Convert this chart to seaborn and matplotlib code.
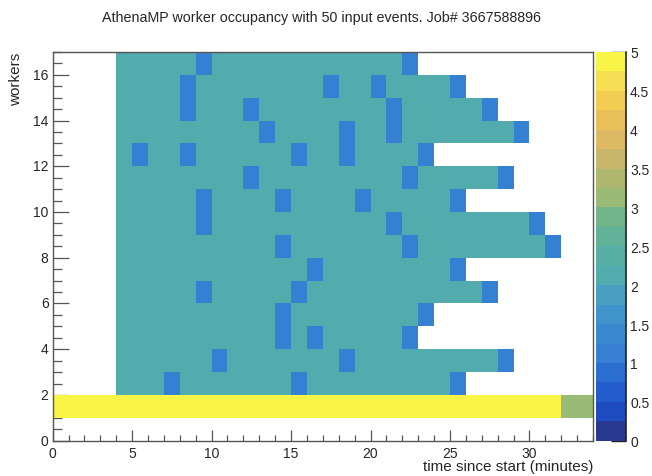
import numpy as np
import pandas as pd
import matplotlib
matplotlib.use("Agg")
import matplotlib.pyplot as plt
from matplotlib.colors import ListedColormap
from matplotlib.ticker import MultipleLocator
from matplotlib.lines import Line2D
import seaborn as sns

# ---------------- data ----------------
title = "AthenaMP worker occupancy with 50 input events. Job# 3667588896"
x_label = "time since start (minutes)"
y_label = "workers"

minute_bins = list(range(34))   # 1-minute bins, 0..34
worker_bins = list(range(17))   # worker rows, 0..17

# occupancy per worker row (row 0 at bottom), one char per minute bin,
# chunks: minutes 0-9 | 10-19 | 20-29 | 30-33 ; "." = empty bin
occupancy_rows = [
    ".........." ".........." ".........." "....",  # 0
    "5555555555" "5555555555" "5555555555" "5533",  # 1
    "....222122" "2222212222" "222221...." "....",  # 2
    "....222222" "1222222212" "222222221." "....",  # 3
    "....222222" "2222121222" "221......." "....",  # 4
    "....222222" "2222122222" "2221......" "....",  # 5
    "....222221" "2222212222" "22222221.." "....",  # 6
    "....222222" "2222221222" "222221...." "....",  # 7
    "....222222" "2222122222" "2212222222" "21..",  # 8
    "....222221" "2222222222" "2122222222" "1...",  # 9
    "....222221" "2222122221" "222221...." "....",  # 10
    "....222222" "2212222222" "221222221." "....",  # 11
    "....212212" "2222212212" "2221......" "....",  # 12
    "....222222" "2221222212" "2122222221" "....",  # 13
    "....222212" "2212222222" "21222221.." "....",  # 14
    "....222212" "2222222122" "122221...." "....",  # 15
    "....222221" "2222222222" "221......." "....",  # 16
]

x_ticks = [0, 5, 10, 15, 20, 25, 30]
y_ticks = [0, 2, 4, 6, 8, 10, 12, 14, 16]
cbar_ticks = [0, 0.5, 1, 1.5, 2, 2.5, 3, 3.5, 4, 4.5, 5]
cbar_labels = ["0", "0.5", "1", "1.5", "2", "2.5", "3", "3.5", "4", "4.5", "5"]
z_min, z_max = 0, 5

# 20 colour levels (bottom -> top), ROOT "bird"-like palette as rendered
palette_colors = [
    "#29398f", "#1e4cbe", "#225dcb", "#2a6ecf", "#3580d3",
    "#3a88d0", "#4093cb", "#4a9fc0", "#52abad", "#57afa6",
    "#62b29a", "#73b58a", "#9abb75", "#aeb76d", "#c7b56a",
    "#ddb964", "#e9bf58", "#f3cc52", "#f5de52", "#f9f547",
]

# ---------------- style ----------------
sns.set_style("white")
plt.rcParams["font.family"] = ["Liberation Sans", "DejaVu Sans"]
frame_col = "#555555"

grid = np.array([[np.nan if c == "." else float(c) for c in row]
                 for row in occupancy_rows])
assert grid.shape == (len(worker_bins), len(minute_bins)), grid.shape
df = pd.DataFrame(grid, index=worker_bins, columns=minute_bins)

fig = plt.figure(figsize=(6.52, 4.77), dpi=100)
ax = fig.add_axes([0.0808, 0.074, 0.8287, 0.815])
cax = fig.add_axes([0.914, 0.074, 0.046, 0.815])

cmap = ListedColormap(palette_colors)
sns.heatmap(df, ax=ax, cbar_ax=cax, cmap=cmap, vmin=z_min, vmax=z_max,
            linewidths=0)

ax.set_xlim(0, len(minute_bins))
ax.set_ylim(0, len(worker_bins))

ax.set_xticks(x_ticks, labels=[str(t) for t in x_ticks])
ax.set_yticks(y_ticks, labels=[str(t) for t in y_ticks])
ax.xaxis.set_minor_locator(MultipleLocator(1))
ax.yaxis.set_minor_locator(MultipleLocator(0.5))
ax.tick_params(axis="x", which="major", direction="in", length=8, width=0.9,
               color=frame_col, labelsize=10, pad=3.5, labelrotation=0,
               bottom=True, top=False)
ax.tick_params(axis="x", which="minor", direction="in", length=4, width=0.9,
               color=frame_col, bottom=True, top=False)
ax.tick_params(axis="y", which="major", direction="in", length=11.5, width=0.9,
               color=frame_col, labelsize=10, pad=3, labelrotation=0,
               left=True, right=False)
ax.tick_params(axis="y", which="minor", direction="in", length=6.5, width=0.9,
               color=frame_col, left=True, right=False)
for lab in ax.get_yticklabels():
    lab.set_va("center")

for sp in ax.spines.values():
    sp.set_visible(True)
    sp.set_color(frame_col)
    sp.set_linewidth(1.0)

ax.set_xlabel(x_label, fontsize=11, loc="right")
ax.xaxis.set_label_coords(1.0, -0.046)
ax.set_ylabel(y_label, fontsize=11, loc="top")
ax.yaxis.set_label_coords(-0.055, 1.0)

# colour bar
cax.set_yticks(cbar_ticks, labels=cbar_labels)
cax.yaxis.set_minor_locator(plt.NullLocator())
cax.tick_params(axis="y", which="major", direction="in", length=11, width=1.0,
                color="#222222", right=True, left=False, labelright=True,
                labelleft=False, labelsize=10, pad=3)
cax.add_line(Line2D([1, 1], [0, 1], transform=cax.transAxes,
                    color="#222222", lw=1.2, clip_on=False))

fig.text(0.493, 0.962, title, ha="center", va="center", fontsize=10.3)

fig.savefig("out.png", dpi=100)
